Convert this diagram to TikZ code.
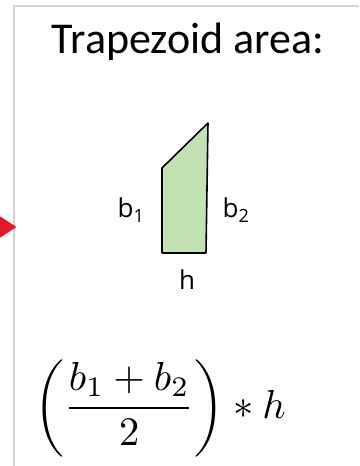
\documentclass[tikz,border=0pt]{standalone}
\usepackage{fontspec}
\usepackage{graphicx}
\setmainfont{Carlito}
\newfontfamily\handfont{Open Sans}
\definecolor{trapgreen}{HTML}{C3E2B3}
\definecolor{framegray}{HTML}{D4D4D4}
\definecolor{arrowred}{HTML}{E3182D}
\tikzset{
  handlabel/.style={font=\handfont\fontsize{26}{30}\selectfont, inner sep=0pt},
}
\begin{document}
\begin{tikzpicture}[x=1pt,y=-1pt]
\useasboundingbox (0,0) rectangle (359,466);
% frame
\draw[framegray, line width=2pt] (14,466) -- (14,6) -- (359,6);
% red arrow head (cut off at left)
\fill[arrowred] (-2,215) -- (16.5,227) -- (-2,239) -- cycle;
% title
\node[font=\fontsize{44}{50}\selectfont, anchor=base] (title) at (188,53) {Trapezoid area:};
% trapezoid
\coordinate (tl) at (162,168);
\coordinate (tr) at (208,123);
\coordinate (br) at (206,253);
\coordinate (bl) at (162,253);
\filldraw[fill=trapgreen, draw=black, line width=1.6pt, line join=round] (tl) -- (tr) -- (br) -- (bl) -- cycle;
% handwritten labels
\node[handlabel] (b1) at (131,210) {b\textsubscript{1}};
\node[handlabel] (b2) at (236,210) {b\textsubscript{2}};
\node[handlabel] (h) at (187,280) {h};
% formula
\node[anchor=west, inner sep=0pt] (formula) at (34,408)
  {\scalebox{4.05}{$\displaystyle\left(\frac{b_1+b_2}{2}\right)*h$}};
\end{tikzpicture}
\end{document}
